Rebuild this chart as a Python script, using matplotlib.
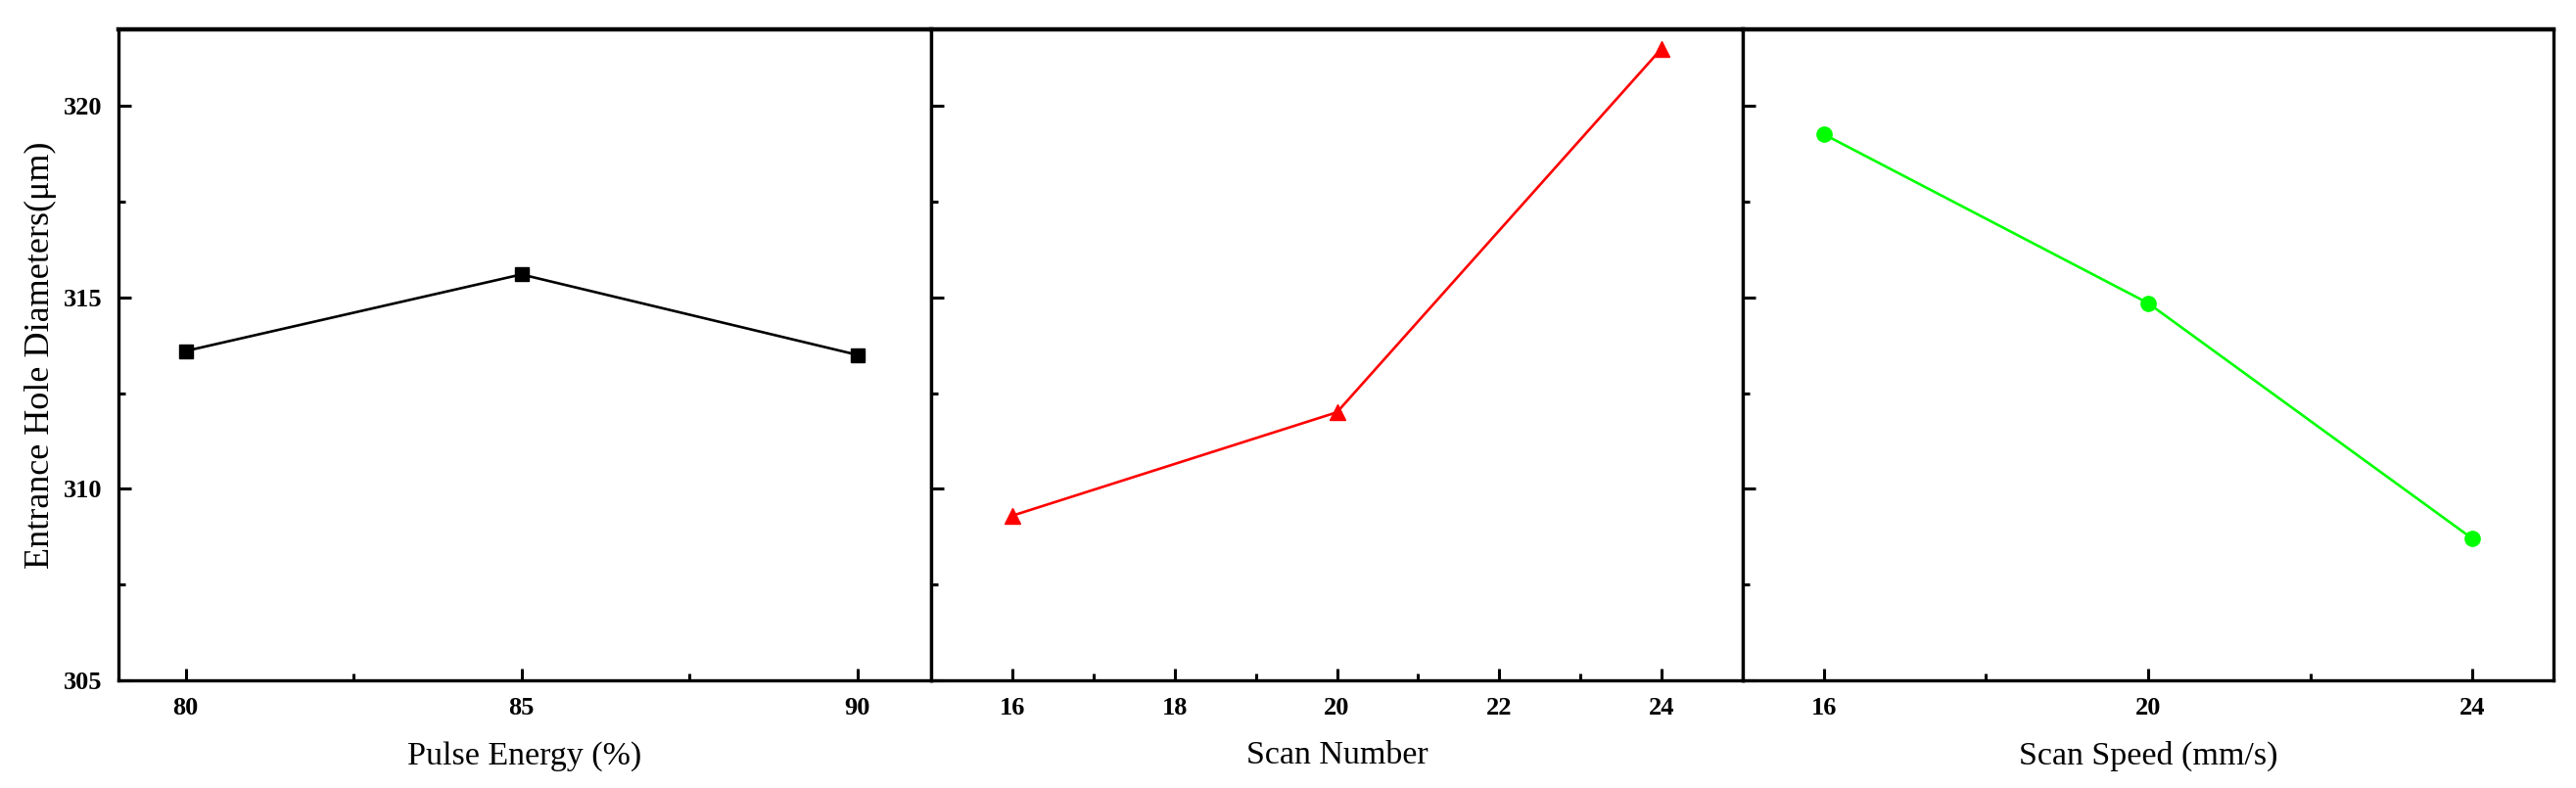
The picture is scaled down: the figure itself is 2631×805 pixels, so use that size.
import matplotlib
matplotlib.use("Agg")
import matplotlib.pyplot as plt
from matplotlib.ticker import FixedLocator

plt.rcParams['font.family'] = ['Liberation Serif', 'DejaVu Serif']
plt.rcParams['mathtext.fontset'] = 'stix'

# Data
pulse_energy = [80, 85, 90]
pulse_diam = [313.6, 315.6, 313.5]

scan_number = [16, 20, 24]
scan_number_diam = [309.3, 312.0, 321.5]

scan_speed = [16, 20, 24]
scan_speed_diam = [319.26, 314.85, 308.7]

ylabel = "Entrance Hole Diameters(μm)"
xlabels = ["Pulse Energy (%)", "Scan Number", "Scan Speed (mm/s)"]

W, H = 2631, 805
fig = plt.figure(figsize=(W / 100, H / 100), dpi=100)

edges = [121, 951, 1780, 2608]
top, bottom = 30, 695

panels = [
    dict(x=pulse_energy, y=pulse_diam, color='black', marker='s', ms=10,
         xlim=(79, 91.1), major=[80, 85, 90], minor=[82.5, 87.5]),
    dict(x=scan_number, y=scan_number_diam, color='#ff0000', marker='^', ms=12,
         xlim=(15, 25), major=[16, 18, 20, 22, 24], minor=[17, 19, 21, 23, 25]),
    dict(x=scan_speed, y=scan_speed_diam, color='#00ff00', marker='o', ms=11,
         xlim=(15, 25), major=[16, 20, 24], minor=[18, 22]),
]

axes = []
for i, p in enumerate(panels):
    l, r = edges[i], edges[i + 1]
    ax = fig.add_axes([l / W, 1 - bottom / H, (r - l) / W, (bottom - top) / H])
    ax.plot(p['x'], p['y'], color=p['color'], marker=p['marker'],
            markersize=p['ms'], linewidth=1.9, clip_on=False, zorder=3)
    ax.set_xlim(*p['xlim'])
    ax.set_ylim(305, 322)
    ax.xaxis.set_major_locator(FixedLocator(p['major']))
    ax.xaxis.set_minor_locator(FixedLocator(p['minor']))
    ax.yaxis.set_major_locator(FixedLocator([305, 310, 315, 320]))
    ax.yaxis.set_minor_locator(FixedLocator([307.5, 312.5, 317.5]))
    ax.tick_params(which='both', direction='in', top=False, right=False,
                   width=2.2, colors='black')
    ax.tick_params(which='major', length=9, labelsize=19, pad=12)
    ax.tick_params(which='minor', length=5)
    for s in ax.spines.values():
        s.set_linewidth(2.4)
    ax.spines['top'].set_linewidth(3.2)
    for lab in ax.get_xticklabels() + ax.get_yticklabels():
        lab.set_fontweight('bold')
    if i > 0:
        ax.set_yticklabels([])
    else:
        ax.set_ylabel(ylabel, fontsize=26, labelpad=5)
    ax.set_xlabel(xlabels[i], fontsize=24.5, labelpad=16)
    axes.append(ax)

fig.savefig("out.png", dpi=100, facecolor='white')
